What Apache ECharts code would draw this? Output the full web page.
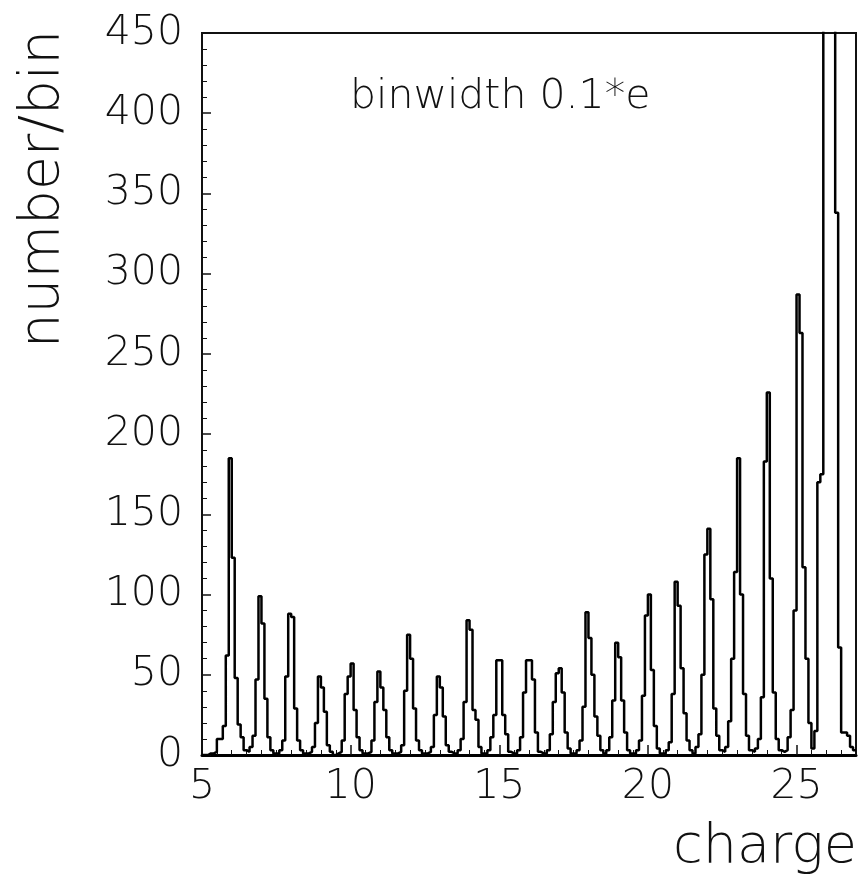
<!DOCTYPE html>
<html><head><meta charset="utf-8">
<script src="https://cdn.jsdelivr.net/npm/echarts@6/dist/echarts.min.js"></script>
<style>html,body{margin:0;padding:0;background:#fff}#c{width:862px;height:874px}</style>
</head><body><div id="c"></div>
<script>
// Histogram of charge, bin width 0.1 e, bins from 5.0 to 27.0
const binStart = 5.0;
const binWidth = 0.1;
// one row = one unit of charge (10 bins)
const counts = [
  0, 0, 1, 1, 2, 10, 10, 18, 62, 185,        // 5.0 - 5.9
  123, 48, 19, 11, 3, 2, 5, 12, 47, 99,      // 6
  82, 35, 11, 3, 1, 1, 3, 9, 49, 88,         // 7
  86, 29, 9, 3, 1, 1, 2, 5, 20, 49,          // 8
  42, 27, 6, 2, 0, 1, 2, 9, 38, 49,          // 9
  57, 28, 11, 3, 1, 1, 2, 9, 33, 52,         // 10
  42, 28, 11, 3, 1, 1, 2, 6, 40, 75,         // 11
  60, 29, 9, 3, 1, 1, 2, 5, 25, 49,          // 12
  42, 24, 6, 2, 1, 1, 3, 10, 33, 84,         // 13
  78, 28, 22, 5, 1, 1, 3, 11, 25, 59,        // 14
  59, 25, 13, 2, 1, 1, 3, 11, 39, 59,        // 15
  59, 47, 14, 2, 1, 1, 3, 13, 33, 51,        // 16
  54, 39, 14, 4, 1, 1, 3, 9, 30, 89,         // 17
  73, 50, 24, 12, 3, 1, 3, 11, 34, 70,       // 18
  61, 34, 14, 3, 1, 1, 3, 9, 37, 87,         // 19
  100, 53, 18, 4, 1, 1, 3, 8, 38, 108,       // 20
  93, 54, 26, 9, 3, 1, 5, 13, 50, 125,       // 21
  141, 97, 29, 12, 3, 2, 5, 21, 60, 114,     // 22
  185, 100, 38, 12, 3, 2, 4, 10, 36, 183,    // 23
  226, 110, 39, 10, 3, 2, 3, 11, 28, 90,     // 24
  287, 263, 117, 60, 20, 4, 15, 170, 175, 1800, // 25
  3500, 3000, 1500, 338, 67, 14, 14, 12, 5, 3   // 26
];
const xTickLabels = [5, 10, 15, 20, 25];
const yTickLabels = [0, 50, 100, 150, 200, 250, 300, 350, 400, 450];
const xTitle = 'charge';
const yTitle = 'number/bin';
const note = 'binwidth 0.1*e';

const pts = [];
for (let i = 0; i < counts.length; i++) {
  pts.push([+(binStart + i * binWidth).toFixed(1), counts[i]]);
}
pts.push([+(binStart + counts.length * binWidth).toFixed(1), counts[counts.length - 1]]);

const FONT = '"DejaVu Sans", sans-serif';
const W = 200;
const chart = echarts.init(document.getElementById('c'), null, {renderer: 'canvas'});
chart.setOption({
  backgroundColor: '#fff',
  animation: false,
  grid: {left: 202, top: 33, right: 6, bottom: 119, show: true, borderColor: '#111', borderWidth: 2, backgroundColor: 'transparent'},
  xAxis: {
    type: 'value', min: 5, max: 27, interval: 5,
    axisLine: {show: true, onZero: false, lineStyle: {color: '#000', width: 3}},
    axisTick: {show: true, inside: true, length: 10, lineStyle: {color: '#111', width: 1.5}},
    minorTick: {show: true, splitNumber: 10, length: 5, lineStyle: {color: '#111', width: 1}},
    splitLine: {show: false},
    axisLabel: {
      fontFamily: FONT, fontWeight: W, fontSize: 41, color: '#111', margin: 12,
      formatter: v => xTickLabels.indexOf(v) >= 0 ? String(v) : ''
    }
  },
  yAxis: {
    type: 'value', min: 0, max: 450, interval: 50,
    axisLine: {show: true, lineStyle: {color: '#111', width: 2}},
    axisTick: {show: true, inside: true, length: 9, lineStyle: {color: '#111', width: 1.5}},
    minorTick: {show: true, splitNumber: 5, length: 5, lineStyle: {color: '#111', width: 1}},
    splitLine: {show: false},
    axisLabel: {
      fontFamily: FONT, fontWeight: W, fontSize: 41, color: '#111', margin: 19,
      formatter: v => yTickLabels.indexOf(v) >= 0 ? String(v) : ''
    }
  },
  graphic: [
    {type: 'text', x: 44, y: 30, rotation: Math.PI / 2,
     style: {text: yTitle, font: W + ' 55px "DejaVu Sans"', fill: '#111', textAlign: 'right', textVerticalAlign: 'middle'}},
    {type: 'text', x: 857, y: 848,
     style: {text: xTitle, font: W + ' 54px "DejaVu Sans"', fill: '#111', textAlign: 'right', textVerticalAlign: 'middle'}},
    {type: 'text', x: 350, y: 97,
     style: {text: note, font: W + ' 41px "DejaVu Sans"', fill: '#111', textAlign: 'left', textVerticalAlign: 'middle'}}
  ],
  series: [{
    type: 'line', data: pts, step: 'end', symbol: 'none', clip: true,
    lineStyle: {color: '#000', width: 2.5}
  }]
});
</script>
</body></html>
